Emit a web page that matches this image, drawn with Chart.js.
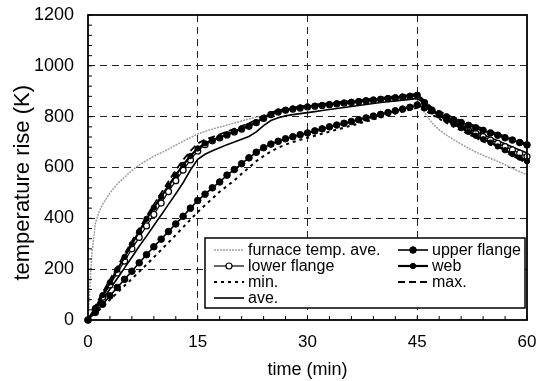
<!DOCTYPE html>
<html><head><meta charset="utf-8">
<script src="https://cdn.jsdelivr.net/npm/chart.js@4.4.1/dist/chart.umd.min.js"></script>
<style>html,body{margin:0;padding:0;background:#fff}</style>
</head><body>
<canvas id="c" width="538" height="381" style="width:538px;height:381px;display:block"></canvas>
<script>
// time (min) for thermocouple series
const TIME = [0,1,2,3,4,5,6,7,8,9,10,11,12,13,14,15,16,17,18,19,20,21,22,23,24,25,26,27,28,29,30,31,32,33,34,35,36,37,38,39,40,41,42,43,44,45,46,47,48,49,50,51,52,53,54,55,56,57,58,59,60];
// time (min) for furnace series
const FURNACE_TIME = [0,0.5,1,1.5,2,3,4,5,6,7,8,9,10,11,12,13,14,15,16,17,18,19,20,21,22,23,24,25,26,27,28,29,30,31,32,33,34,35,36,37,38,39,40,41,42,43,44,45,46,47,48,49,50,51,52,53,54,55,56,57,58,59,60];
const FURNACE = [0,250,380,425,455,500,535,562,588,610,628,644,658,672,688,703,718,732,742,751,759,767,775,783,791,798,805,811,817,822,827,832,836,840,843,846,849,852,855,858,861,863,866,868,870,872,874,866,815,776,748,727,709,692,676,661,648,636,624,611,597,584,571];
const UPPER_FLANGE = [0,30,62,95,128,160,192,225,257,288,318,348,378,408,440,470,495,520,543,570,592,615,638,660,678,692,703,713,721,729,736,744,752,760,767,774,781,788,795,802,809,816,823,830,837,846,835,823,811,799,787,777,766,756,746,736,727,717,708,698,689];
const LOWER_FLANGE = [0,42,90,138,185,232,280,325,370,415,460,505,548,590,630,665,690,705,716,728,740,751,762,776,793,808,818,825,830,834,838,841,844,847,850,853,856,859,862,865,868,871,874,877,880,884,855,826,807,790,775,761,747,734,721,708,695,682,669,656,643];
const WEB = [0,48,98,148,198,248,298,348,398,442,485,528,570,610,645,675,695,708,718,730,742,753,764,778,795,810,820,827,832,836,840,843,846,849,852,855,858,861,864,867,870,873,876,879,882,886,855,825,805,787,770,755,740,725,711,698,683,668,653,639,625];
const MIN = [0,25,52,80,107,135,162,190,218,247,276,305,335,365,395,425,452,478,505,527,550,575,600,625,645,663,678,690,700,709,717,725,733,741,749,757,765,773,781,789,797,805,813,820,827,835,825,808,792,776,760,746,731,717,703,690,676,661,647,632,618];
const MAX = [0,55,108,160,210,260,310,360,408,455,500,545,590,630,665,695,710,720,730,741,752,763,774,788,803,816,825,831,836,840,844,847,850,853,856,859,862,865,868,871,874,877,880,883,886,890,862,835,820,808,795,784,773,763,753,743,733,723,713,703,694];
const AVE = [0,38,80,122,163,205,247,290,330,372,413,455,497,540,590,632,652,666,678,690,700,711,722,740,765,785,796,803,808,812,816,820,824,828,832,836,840,844,848,852,856,859,862,865,868,872,850,825,808,793,779,766,753,741,729,717,705,693,681,669,657];
// axis ticks
const X_TICKS = [0,15,30,45,60];
const Y_TICKS = [0,200,400,600,800,1000,1200];
const X_MINOR_STEP = 3;
const Y_MINOR_STEP = 40;

const pts = (xs, ys) => xs.map((x, i) => ({x, y: ys[i]}));
const FONT = '"Liberation Sans", Arial, sans-serif';

const framePlugin = {
  id: 'frame',
  afterDatasetsDraw(chart) {
    const {ctx, chartArea: a, scales} = chart;
    ctx.save();
    ctx.strokeStyle = '#000';
    ctx.lineWidth = 1;
    for (let v = 0; v <= scales.x.max; v += X_MINOR_STEP) {
      const px = scales.x.getPixelForValue(v);
      ctx.beginPath(); ctx.moveTo(px, a.bottom); ctx.lineTo(px, a.bottom - 4); ctx.stroke();
    }
    for (let v = 0; v <= scales.y.max; v += Y_MINOR_STEP) {
      const py = scales.y.getPixelForValue(v);
      ctx.beginPath(); ctx.moveTo(a.left, py); ctx.lineTo(a.left + 4, py); ctx.stroke();
    }
    ctx.lineWidth = 1.8;
    ctx.strokeRect(a.left, a.top, a.right - a.left, a.bottom - a.top);
    ctx.restore();
  },
  afterDraw(chart) {
    const {ctx, chartArea: a} = chart;
    const ds = chart.data.datasets;
    const W = 320, H = 70;
    const L = a.right - W - 2, T = a.bottom - H - 12;
    ctx.save();
    ctx.fillStyle = '#fff';
    ctx.fillRect(L, T, W, H);
    ctx.lineWidth = 1.5; ctx.strokeStyle = '#000';
    ctx.strokeRect(L, T, W, H);
    const cols = [{x: L + 9, idx: [0, 2, 4, 6]}, {x: L + 193, idx: [1, 3, 5]}];
    ctx.font = '16px ' + FONT;
    ctx.textBaseline = 'middle';
    cols.forEach(col => {
      col.idx.forEach((di, r) => {
        const d = ds[di];
        const y = T + 12 + r * 16;
        const x0 = col.x, x1 = col.x + 30;
        ctx.save();
        ctx.strokeStyle = d.borderColor;
        ctx.lineWidth = d.borderWidth;
        ctx.setLineDash(d.borderDash || []);
        ctx.beginPath(); ctx.moveTo(x0, y); ctx.lineTo(x1, y); ctx.stroke();
        ctx.setLineDash([]);
        if (d.pointRadius > 0) {
          ctx.beginPath();
          ctx.arc((x0 + x1) / 2, y, d.pointRadius, 0, Math.PI * 2);
          ctx.fillStyle = d.pointBackgroundColor; ctx.fill();
          ctx.lineWidth = d.pointBorderWidth; ctx.strokeStyle = d.pointBorderColor; ctx.stroke();
        }
        ctx.restore();
        ctx.fillStyle = '#000';
        ctx.fillText(d.label, x1 + 4, y + 1);
      });
    });
    ctx.restore();
  }
};

new Chart(document.getElementById('c'), {
  type: 'line',
  data: {
    datasets: [
      {label: 'furnace temp. ave.', data: pts(FURNACE_TIME, FURNACE), borderColor: '#a0a0a0', borderWidth: 1.5, borderDash: [2, 1], pointRadius: 0, order: 10},
      {label: 'upper flange', data: pts(TIME, UPPER_FLANGE), borderColor: '#000', borderWidth: 1.6, pointRadius: 3.3, pointBackgroundColor: '#000', pointBorderColor: '#000', pointBorderWidth: 1, order: 0},
      {label: 'lower flange', data: pts(TIME, LOWER_FLANGE), borderColor: '#000', borderWidth: 1.2, pointRadius: 3, pointBackgroundColor: '#fff', pointBorderColor: '#000', pointBorderWidth: 1.2, order: 2},
      {label: 'web', data: pts(TIME, WEB), borderColor: '#000', borderWidth: 2.2, pointRadius: 2.7, pointBackgroundColor: '#000', pointBorderColor: '#000', pointBorderWidth: 1, order: 1},
      {label: 'min.', data: pts(TIME, MIN), borderColor: '#000', borderWidth: 2, borderDash: [3, 4], pointRadius: 0, order: 4},
      {label: 'max.', data: pts(TIME, MAX), borderColor: '#000', borderWidth: 1.8, borderDash: [7, 4], pointRadius: 0, order: 3},
      {label: 'ave.', data: pts(TIME, AVE), borderColor: '#000', borderWidth: 1.6, pointRadius: 0, order: 5}
    ]
  },
  options: {
    responsive: false,
    animation: false,
    devicePixelRatio: 1,
    layout: {padding: {top: 15, right: 11, left: 0, bottom: 0}, autoPadding: false},
    elements: {line: {tension: 0}},
    datasets: {line: {clip: false}},
    plugins: {legend: {display: false}, tooltip: {enabled: false}},
    scales: {
      x: {
        type: 'linear', min: 0, max: 60,
        afterBuildTicks: s => { s.ticks = X_TICKS.map(v => ({value: v})); },
        afterFit: s => { s.height = 61; s.paddingLeft = 0; s.paddingRight = 0; },
        ticks: {font: {size: 17, family: FONT}, color: '#000', padding: 12, maxRotation: 0, callback: v => String(v)},
        grid: {drawTicks: false, lineWidth: 1, color: c => (c.tick && c.tick.value > 0 && c.tick.value < 60) ? '#222' : 'rgba(0,0,0,0)'},
        border: {display: false, dash: [7, 5]},
        title: {display: true, text: 'time (min)', font: {size: 18, family: FONT}, color: '#000', padding: {top: 2, bottom: 0}}
      },
      y: {
        type: 'linear', min: 0, max: 1200,
        afterBuildTicks: s => { s.ticks = Y_TICKS.map(v => ({value: v})); },
        afterFit: s => { s.width = 88; s.paddingTop = 0; s.paddingBottom = 0; },
        ticks: {font: {size: 18, family: FONT}, color: '#000', padding: 14, callback: v => String(v)},
        grid: {drawTicks: false, lineWidth: 1, color: c => (c.tick && c.tick.value > 0 && c.tick.value < 1200) ? '#222' : 'rgba(0,0,0,0)'},
        border: {display: false, dash: [7, 5]},
        title: {display: true, text: 'temperature rise (K)     ', font: {size: 22, family: FONT}, color: '#000', padding: {top: 10, bottom: 0}}
      }
    }
  },
  plugins: [framePlugin]
});
</script>
</body></html>
